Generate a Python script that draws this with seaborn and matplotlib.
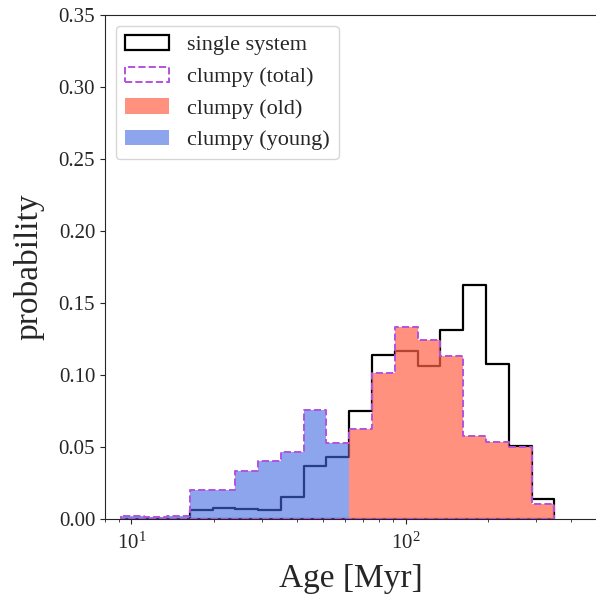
import numpy as np
import pandas as pd
import matplotlib
matplotlib.use("Agg")
import matplotlib.pyplot as plt
import seaborn as sns
from matplotlib.patches import Patch

# Bin edges (Myr), log-spaced
bin_edges = [9.19, 11.13, 13.48, 16.32, 19.77, 23.93, 28.98, 35.10, 42.50, 51.46,
             62.32, 75.46, 91.36, 110.6, 134.0, 162.2, 196.4, 237.8, 288.0, 348.7]

single_system = [0.0, 0.0, 0.0, 0.0064, 0.0080, 0.0071, 0.0062, 0.0155, 0.0368, 0.0431,
                 0.0752, 0.1138, 0.1166, 0.1061, 0.1314, 0.1626, 0.1079, 0.0510, 0.0138]
clumpy_total = [0.0022, 0.0013, 0.0024, 0.0201, 0.0201, 0.0333, 0.0401, 0.0466, 0.0759, 0.0531,
                0.0626, 0.1015, 0.1335, 0.1243, 0.1135, 0.0577, 0.0533, 0.0499, 0.0106]
n_young = 10  # first 10 bins are the young population

sns.set_style("ticks")
plt.rcParams["font.family"] = ["Liberation Serif", "DejaVu Serif"]
plt.rcParams["mathtext.fontset"] = "stix"

edges = np.array(bin_edges)
centers = np.sqrt(edges[:-1] * edges[1:])
log_edges = [float(v) for v in np.log10(edges)]

df = pd.DataFrame({"age": centers, "single": single_system, "total": clumpy_total})
young = df.iloc[:n_young]
old = df.iloc[n_young:]

fig = plt.figure(figsize=(5.96, 5.94), dpi=100)
ax = fig.add_axes([0.176, 0.126, 0.826, 0.849])

n0 = len(ax.collections)
sns.histplot(data=df, x="age", weights="single", bins=log_edges, log_scale=True,
             element="step", fill=True, color="black", linewidth=1.6, ax=ax)
for c in ax.collections[n0:]:
    c.set_facecolor("none")
    c.set_edgecolor("black")
    c.set_zorder(1)

n0 = len(ax.collections)
sns.histplot(data=old, x="age", weights="total", bins=log_edges[n_young:], log_scale=True,
             element="step", fill=True, color="tomato", alpha=0.7, linewidth=0, ax=ax)
sns.histplot(data=young, x="age", weights="total", bins=log_edges[:n_young + 1], log_scale=True,
             element="step", fill=True, color="royalblue", alpha=0.6, linewidth=0, ax=ax)
for c in ax.collections[n0:]:
    c.set_zorder(2)

n0 = len(ax.collections)
sns.histplot(data=df, x="age", weights="total", bins=log_edges, log_scale=True,
             element="step", fill=True, color="#b452e0", linestyle="--",
             linewidth=1.4, ax=ax)
for c in ax.collections[n0:]:
    c.set_facecolor("none")
    c.set_edgecolor("#b452e0")
    c.set_zorder(3)

ax.set_xlim(8, 500)
ax.set_ylim(0, 0.35)
ax.set_yticks(np.arange(0, 0.351, 0.05))
ax.set_yticklabels([f"{v:.2f}" for v in np.arange(0, 0.351, 0.05)])
ax.tick_params(axis="both", labelsize=15)
ax.tick_params(axis="x", which="major", pad=6)
ax.set_xlabel("Age [Myr]", fontsize=24, labelpad=7)
ax.set_ylabel("probability", fontsize=24, labelpad=10)

handles = [
    Patch(facecolor="white", edgecolor="black", linewidth=1.6, label="single system"),
    Patch(facecolor="white", edgecolor="#b452e0", linestyle="--", linewidth=1.4,
          label="clumpy (total)"),
    Patch(facecolor="tomato", alpha=0.7, edgecolor="none", label="clumpy (old)"),
    Patch(facecolor="royalblue", alpha=0.6, edgecolor="none", label="clumpy (young)"),
]
ax.legend(handles=handles, loc="upper left", fontsize=16, frameon=True)

fig.savefig("out.png", dpi=100)
